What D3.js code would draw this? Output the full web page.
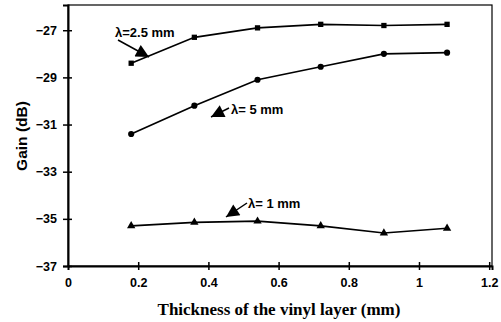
<!DOCTYPE html>
<html>
<head>
<meta charset="utf-8">
<script src="https://cdn.jsdelivr.net/npm/d3@7"></script>
<style>
  body { margin: 0; background: #fff; }
  svg { display: block; }
</style>
</head>
<body>
<svg id="chart" width="501" height="322"></svg>
<script>
// Data
const thickness = [0.18, 0.36, 0.54, 0.72, 0.9, 1.08];
const gain25 = [-28.4, -27.3, -26.9, -26.75, -26.8, -26.75]; // λ=2.5 mm, squares
const gain5 = [-31.4, -30.2, -29.1, -28.55, -28.0, -27.95];  // λ=5 mm, dots
const gain1 = [-35.3, -35.15, -35.1, -35.3, -35.6, -35.4];   // λ=1 mm, triangles
const xTicks = [0, 0.2, 0.4, 0.6, 0.8, 1, 1.2];
const yTicks = [-37, -35, -33, -31, -29, -27];

const margin = { top: 5, right: 9, bottom: 56, left: 68 };
const width = 501 - margin.left - margin.right;
const height = 322 - margin.top - margin.bottom;

const svg = d3.select('#chart');
const g = svg.append('g').attr('transform', `translate(${margin.left},${margin.top})`);

const x = d3.scaleLinear().domain([0, 1.208]).range([0, width]);
const y = d3.scaleLinear().domain([-37, -25.93]).range([height, 0]);

// frame
g.append('rect')
  .attr('width', width).attr('height', height)
  .attr('fill', 'none').attr('stroke', '#000').attr('stroke-width', 1.2);

// axes with crossing ticks
const xAxis = g.append('g').attr('transform', `translate(0,${height})`)
  .call(d3.axisBottom(x).tickValues(xTicks).tickSize(4).tickFormat(d3.format('')));
const yAxis = g.append('g')
  .call(d3.axisLeft(y).tickValues(yTicks).tickSize(5).tickFormat(d3.format('')));

[xAxis, yAxis].forEach(a => {
  a.select('.domain').attr('stroke-width', 2);
  a.selectAll('.tick line').attr('stroke-width', 1.5);
  a.selectAll('text')
    .attr('font-family', 'Liberation Sans, Arial, sans-serif')
    .attr('font-weight', 'bold')
    .attr('font-size', 12.5)
    .attr('fill', '#000');
});
xAxis.selectAll('.tick line').attr('y1', -4);
xAxis.selectAll('.tick text').attr('dy', '1.1em');
yAxis.selectAll('.tick line').attr('x1', 4);
yAxis.selectAll('.tick text').attr('x', -11);
xAxis.selectAll('.tick').filter(d => d === 0).select('line').remove();

// lines
const series = [
  { vals: gain25, shape: d3.symbolSquare, size: 28 },
  { vals: gain5, shape: d3.symbolCircle, size: 30 },
  { vals: gain1, shape: d3.symbolTriangle, size: 30 }
];
const line = d3.line().x(d => x(d[0])).y(d => y(d[1]));
series.forEach(s => {
  const pts = thickness.map((t, i) => [t, s.vals[i]]);
  g.append('path').datum(pts)
    .attr('d', line).attr('fill', 'none')
    .attr('stroke', '#000').attr('stroke-width', 1.7);
  g.selectAll(null).data(pts).enter().append('path')
    .attr('transform', d => `translate(${x(d[0])},${y(d[1])})`)
    .attr('d', d3.symbol().type(s.shape).size(s.size))
    .attr('fill', '#000');
});

// annotations
svg.append('defs').append('marker')
  .attr('id', 'arrow').attr('viewBox', '0 0 10 10')
  .attr('refX', 10).attr('refY', 5)
  .attr('markerWidth', 16).attr('markerHeight', 13)
  .attr('markerUnits', 'userSpaceOnUse')
  .attr('orient', 'auto')
  .append('path').attr('d', 'M0,0 L10,5 L0,10 z').attr('fill', '#000');

const notes = [
  { text: 'λ=2.5 mm', tx: 115, ty: 37, from: [118, 40], to: [149, 57] },
  { text: 'λ= 5 mm', tx: 231, ty: 114, from: [229, 108], to: [211, 117] },
  { text: 'λ= 1 mm', tx: 248, ty: 208, from: [247, 203], to: [226, 217] }
];
notes.forEach(n => {
  svg.append('text')
    .attr('x', n.tx).attr('y', n.ty)
    .attr('font-family', 'Liberation Sans, Arial, sans-serif')
    .attr('font-size', 13).attr('font-weight', 'bold').attr('fill', '#000')
    .text(n.text);
  svg.append('line')
    .attr('x1', n.from[0]).attr('y1', n.from[1])
    .attr('x2', n.to[0]).attr('y2', n.to[1])
    .attr('stroke', '#000').attr('stroke-width', 1.5)
    .attr('marker-end', 'url(#arrow)');
});

// axis titles
svg.append('text')
  .attr('transform', 'translate(27,136) rotate(-90)')
  .attr('text-anchor', 'middle')
  .attr('font-family', 'Liberation Sans, Arial, sans-serif')
  .attr('font-weight', 'bold').attr('font-size', 15.5)
  .text('Gain (dB)');
svg.append('text')
  .attr('x', 279).attr('y', 315)
  .attr('text-anchor', 'middle')
  .attr('font-family', 'Liberation Serif, Times New Roman, serif')
  .attr('font-weight', 'bold').attr('font-size', 17)
  .text('Thickness of the vinyl layer (mm)');
</script>
</body>
</html>
